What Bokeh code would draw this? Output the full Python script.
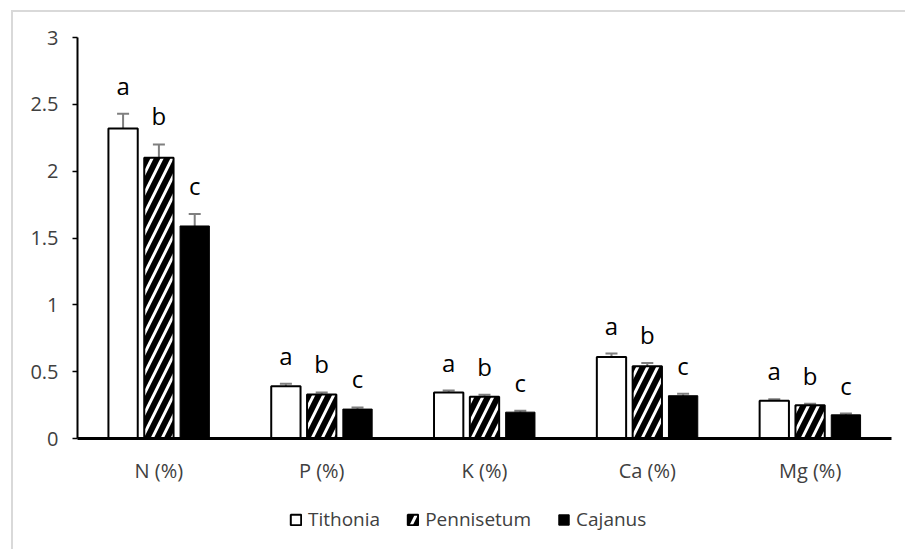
from bokeh.plotting import figure
from bokeh.layouts import column
from bokeh.models import (ColumnDataSource, FactorRange, Range1d, FixedTicker,
                          CustomJSTickFormatter, Whisker, TeeHead, Legend, LegendItem)
from bokeh.transform import dodge
from bokeh.core.properties import value
from bokeh.embed import file_html
from bokeh.resources import INLINE

categories = ["N (%)", "P (%)", "K (%)", "Ca (%)", "Mg (%)"]
series_names = ["Tithonia", "Pennisetum", "Cajanus"]
tithonia = [2.32, 0.39, 0.344, 0.61, 0.282]
pennisetum = [2.10, 0.33, 0.312, 0.54, 0.248]
cajanus = [1.59, 0.22, 0.197, 0.32, 0.177]
tithonia_err = [0.11, 0.02, 0.015, 0.025, 0.012]
pennisetum_err = [0.10, 0.015, 0.015, 0.025, 0.012]
cajanus_err = [0.09, 0.012, 0.01, 0.015, 0.01]
tithonia_letters = ["a", "a", "a", "a", "a"]
pennisetum_letters = ["b", "b", "b", "b", "b"]
cajanus_letters = ["c", "c", "c", "c", "c"]
y_ticks = [0, 0.5, 1, 1.5, 2, 2.5, 3]

FONT = value("Open Sans")

p = figure(width=905, height=500, output_backend="svg", toolbar_location=None,
           x_range=FactorRange(factors=categories), y_range=Range1d(0, 3),
           min_border_left=77, min_border_right=14, min_border_top=37, min_border_bottom=62)
p.border_fill_color = None
p.background_fill_color = "white"
p.outline_line_color = None
p.xgrid.visible = False
p.ygrid.visible = False

offsets = [-0.22, 0.0, 0.22]
vals = [tithonia, pennisetum, cajanus]
errs = [tithonia_err, pennisetum_err, cajanus_err]
letters = [tithonia_letters, pennisetum_letters, cajanus_letters]
styles = [
    dict(fill_color="white", line_color="black", line_width=2),
    dict(fill_color="white", line_color="black", line_width=2,
         hatch_pattern="right_diagonal_line", hatch_color="black", hatch_weight=6, hatch_scale=20),
    dict(fill_color="black", line_color="black", line_width=1),
]

for name, off, v, e, lt, st in zip(series_names, offsets, vals, errs, letters, styles):
    src = ColumnDataSource(dict(
        cat=categories, val=v,
        upper=[a + b for a, b in zip(v, e)],
        lower=[a - b for a, b in zip(v, e)],
        letter=lt,
    ))
    p.vbar(x=dodge("cat", off, range=p.x_range), top="val", width=0.18, source=src, **st)
    w = Whisker(base=dodge("cat", off, range=p.x_range), upper="upper", lower="lower", source=src,
                line_color="#7f7f7f", line_width=2,
                upper_head=TeeHead(size=12, line_color="#7f7f7f", line_width=2),
                lower_head=TeeHead(size=12, line_color="#7f7f7f", line_width=2))
    p.add_layout(w)
    p.text(x=dodge("cat", off, range=p.x_range), y="upper", text="letter", source=src,
           text_align="center", text_baseline="bottom", y_offset=-12,
           text_font=FONT, text_font_size="24px", text_color="black")

# axes
p.yaxis.ticker = FixedTicker(ticks=y_ticks)
p.yaxis.formatter = CustomJSTickFormatter(code="return String(+tick.toFixed(1));")
p.yaxis.axis_line_color = "black"
p.yaxis.axis_line_width = 2
p.yaxis.major_tick_line_color = "black"
p.yaxis.major_tick_line_width = 1.5
p.yaxis.major_tick_out = 5
p.yaxis.major_tick_in = 0
p.yaxis.minor_tick_line_color = None
p.yaxis.major_label_standoff = 14
p.yaxis.major_label_text_font = "Open Sans"
p.yaxis.major_label_text_font_size = "20px"
p.yaxis.major_label_text_color = "#404040"

p.xaxis.axis_line_color = "black"
p.xaxis.axis_line_width = 3
p.xaxis.major_tick_line_color = None
p.xaxis.minor_tick_line_color = None
p.xaxis.major_label_standoff = 12
p.xaxis.major_label_text_font = "Open Sans"
p.xaxis.major_label_text_font_size = "20px"
p.xaxis.major_label_text_color = "#404040"

# legend in its own strip below the chart
lf = figure(width=905, height=49, output_backend="svg", toolbar_location=None,
            x_range=Range1d(0, 1), y_range=Range1d(0, 1),
            x_axis_type=None, y_axis_type=None,
            min_border_left=0, min_border_right=0, min_border_top=0, min_border_bottom=0)
lf.border_fill_color = None
lf.background_fill_color = None
lf.outline_line_color = None
lf.xgrid.visible = False
lf.ygrid.visible = False
items = []
for name, st in zip(series_names, styles):
    # hidden placeholder renderer, only used for the legend swatch
    r = lf.vbar(x=[0.5], top=[0.5], width=0.1, visible=False, **st)
    items.append(LegendItem(label=name, renderers=[r]))
legend = Legend(items=items, orientation="horizontal", location=(212, 17),
                label_text_font="Open Sans", label_text_font_size="19px",
                label_text_color="#404040", glyph_width=13, glyph_height=13,
                label_standoff=6, spacing=26, padding=0, margin=0, click_policy="none",
                border_line_color=None, background_fill_color=None)
lf.add_layout(legend, "center")

layout = column(p, lf, spacing=0)
layout.styles = {"box-shadow": "inset 11px 10px 0 0 #ffffff, inset 13px 12px 0 0 #d9d9d9"}

open("out.html", "w").write(file_html(layout, INLINE))
